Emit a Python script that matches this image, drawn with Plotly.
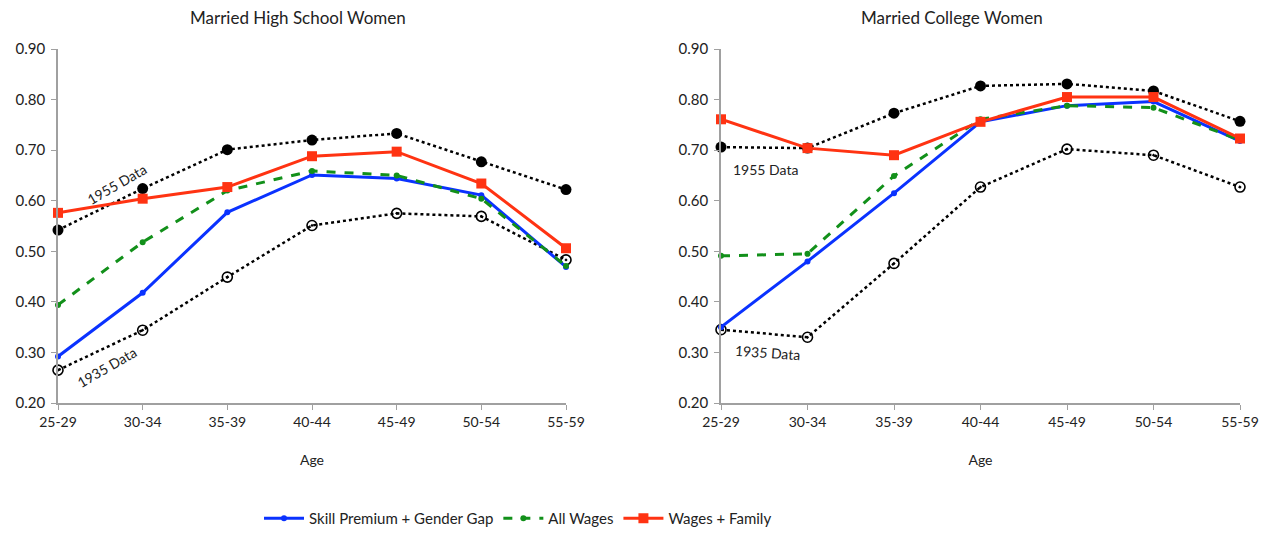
import plotly.graph_objects as go

ages = ["25-29", "30-34", "35-39", "40-44", "45-49", "50-54", "55-59"]

# Married high school women
hs_1955 = [0.542, 0.624, 0.701, 0.720, 0.733, 0.677, 0.622]
hs_1935 = [0.265, 0.344, 0.449, 0.551, 0.575, 0.569, 0.483]
hs_skill = [0.292, 0.418, 0.577, 0.651, 0.644, 0.611, 0.469]
hs_wages = [0.394, 0.518, 0.620, 0.659, 0.650, 0.604, 0.471]
hs_family = [0.576, 0.604, 0.627, 0.688, 0.697, 0.634, 0.506]

# Married college women
col_1955 = [0.706, 0.704, 0.773, 0.827, 0.831, 0.817, 0.757]
col_1935 = [0.345, 0.330, 0.476, 0.627, 0.702, 0.690, 0.627]
col_skill = [0.350, 0.480, 0.615, 0.756, 0.788, 0.796, 0.718]
col_wages = [0.491, 0.495, 0.649, 0.761, 0.788, 0.784, 0.720]
col_family = [0.761, 0.704, 0.690, 0.756, 0.805, 0.805, 0.723]

FONT = "Lato"
BLUE = "#0a32ff"
GREEN = "#12901a"
RED = "#ff3312"
W, H = 1270, 535


def px_x(p):
    return p / W


def px_y(p):
    return 1 - p / H


fig = go.Figure()

panels = [
    ("x", "y", hs_1955, hs_1935, hs_skill, hs_wages, hs_family, True),
    ("x2", "y2", col_1955, col_1935, col_skill, col_wages, col_family, False),
]

for xa, ya, d55, d35, skill, wages, family, show in panels:
    fig.add_trace(go.Scatter(
        x=ages, y=d55, xaxis=xa, yaxis=ya, mode="lines+markers",
        line=dict(color="black", width=2.5, dash="dot"),
        marker=dict(color="black", size=11, symbol="circle"),
        showlegend=False, cliponaxis=False, name="1955 Data",
    ))
    fig.add_trace(go.Scatter(
        x=ages, y=d35, xaxis=xa, yaxis=ya, mode="lines+markers",
        line=dict(color="black", width=2.5, dash="dot"),
        marker=dict(color="black", size=10, symbol="circle-open-dot",
                    line=dict(width=1.6)),
        showlegend=False, cliponaxis=False, name="1935 Data",
    ))
    fig.add_trace(go.Scatter(
        x=ages, y=skill, xaxis=xa, yaxis=ya, mode="lines+markers",
        line=dict(color=BLUE, width=3),
        marker=dict(color=BLUE, size=6, symbol="circle"),
        showlegend=show, cliponaxis=False, name="Skill Premium + Gender Gap",
        legendrank=1,
    ))
    fig.add_trace(go.Scatter(
        x=ages, y=wages, xaxis=xa, yaxis=ya, mode="lines+markers",
        line=dict(color=GREEN, width=3, dash="dash"),
        marker=dict(color=GREEN, size=6, symbol="circle"),
        showlegend=show, cliponaxis=False, name="All Wages",
        legendrank=2,
    ))
    fig.add_trace(go.Scatter(
        x=ages, y=family, xaxis=xa, yaxis=ya, mode="lines+markers",
        line=dict(color=RED, width=3),
        marker=dict(color=RED, size=10, symbol="square"),
        showlegend=show, cliponaxis=False, name="Wages + Family",
        legendrank=3,
    ))

axis_common = dict(
    showline=True, linecolor="#a0a0a0", linewidth=1.5,
    ticks="outside", tickcolor="#a0a0a0", ticklen=5,
    showgrid=False, zeroline=False,
    tickfont=dict(family=FONT, size=14, color="#222"),
    automargin=False,
)
xaxis_common = dict(
    axis_common, type="category", range=[0, 6],
    title=dict(text="Age", font=dict(family=FONT, size=14, color="#222"), standoff=27),
)
yaxis_common = dict(
    axis_common, range=[0.2, 0.9], dtick=0.1, tickformat=".2f",
    tickfont=dict(family=FONT, size=15, color="#222"), ticklabelstandoff=3,
)

fig.update_layout(
    width=W, height=H,
    margin=dict(l=0, r=0, t=0, b=0),
    paper_bgcolor="white", plot_bgcolor="white",
    font=dict(family=FONT, color="#222"),
    xaxis=dict(xaxis_common, domain=[px_x(58), px_x(566)], anchor="y"),
    yaxis=dict(yaxis_common, domain=[px_y(403), px_y(49)], anchor="x"),
    xaxis2=dict(xaxis_common, domain=[px_x(721), px_x(1240)], anchor="y2"),
    yaxis2=dict(yaxis_common, domain=[px_y(403), px_y(49)], anchor="x2"),
    # legend sits flush with the bottom edge so it does not push the margins
    legend=dict(
        orientation="h", x=px_x(518), xanchor="center", y=0, yanchor="bottom",
        font=dict(family=FONT, size=15, color="#222"),
        itemwidth=40, traceorder="normal",
    ),
)

annotations = [
    dict(text="Married High School Women", x=px_x(298), y=px_y(18), size=17, angle=0),
    dict(text="Married College Women", x=px_x(952), y=px_y(18), size=17, angle=0),
    dict(text="1955 Data", x=px_x(116), y=px_y(184), size=14, angle=-30),
    dict(text="1935 Data", x=px_x(106), y=px_y(367), size=14, angle=-30),
    dict(text="1955 Data", x=px_x(765), y=px_y(169), size=14, angle=0),
    dict(text="1935 Data", x=px_x(767), y=px_y(352), size=14, angle=4),
]
for a in annotations:
    fig.add_annotation(
        text=a["text"], xref="paper", yref="paper", x=a["x"], y=a["y"],
        xanchor="center", yanchor="middle", showarrow=False,
        textangle=a["angle"], font=dict(family=FONT, size=a["size"], color="#222"),
    )

# drop the browser's default body margin so the figure fills the window
fig.write_html(
    "out.html",
    config={"displayModeBar": False},
    post_script="document.body.style.margin = '0';",
)
